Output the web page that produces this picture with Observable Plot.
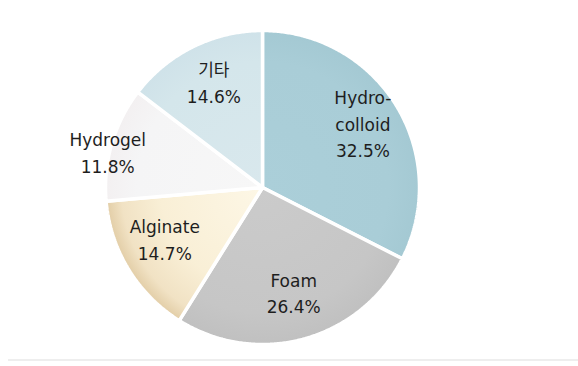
<!DOCTYPE html>
<html>
<head>
<meta charset="utf-8">
<script src="https://cdn.jsdelivr.net/npm/d3@7"></script>
<script src="https://cdn.jsdelivr.net/npm/@observablehq/plot@0.6"></script>
<style>
  body { margin: 0; background: #fff; }
  #chart svg { display: block; }
  #base { height: 2px; margin-left: 8px; background: #eeeeee; }
</style>
</head>
<body>
<div id="chart"></div>
<div id="base"></div>
<script>
// Market share by wound dressing type (%)
const names = ["Hydrocolloid", "Foam", "Alginate", "Hydrogel", "기타"];
const labels = ["Hydro-\ncolloid", "Foam", "Alginate", "Hydrogel", "기타"];
const shares = [32.5, 26.4, 14.7, 11.8, 14.6];

// slice fills (gradients defined below)
const fills = {
  "Hydrocolloid": "url(#g-hydrocolloid)",
  "Foam": "url(#g-foam)",
  "Alginate": "url(#g-alginate)",
  "Hydrogel": "url(#g-hydrogel)",
  "기타": "url(#g-etc)"
};
// label placement: distance from the centre (fraction of radius) and a small pixel nudge
const labelPlace = {
  "Hydrocolloid": {r: 0.75, dx: 0, dy: 1},
  "Foam": {r: 0.72, dx: 1, dy: 0},
  "Alginate": {r: 0.7, dx: -4, dy: -2},
  "Hydrogel": {r: 1.0, dx: -4, dy: 12},
  "기타": {r: 0.7, dx: 0, dy: -3}
};

const rows = names.map((n, i) => ({name: n, label: labels[i], share: shares[i]}));
const arcs = d3.pie().sort(null).value(d => d.share)(rows);

// polygon outline for each slice, in unit-circle coordinates (y up)
const pts = [];
for (const a of arcs) {
  const n = a.data.name;
  pts.push({name: n, x: 0, y: 0});
  const steps = Math.max(2, Math.ceil((a.endAngle - a.startAngle) / (Math.PI / 360)));
  for (let k = 0; k <= steps; k++) {
    const t = a.startAngle + (a.endAngle - a.startAngle) * k / steps;
    pts.push({name: n, x: Math.sin(t), y: Math.cos(t)});
  }
  pts.push({name: n, x: 0, y: 0});
}

const W = 578, H = 359;
const mL = 105, mR = 159, mT = 30, mB = 15;
const pxPerUnit = (W - mL - mR) / 2;

const textRows = arcs.map(a => {
  const m = (a.startAngle + a.endAngle) / 2;
  const p = labelPlace[a.data.name];
  return {
    x: p.r * Math.sin(m) + p.dx / pxPerUnit,
    y: p.r * Math.cos(m) - p.dy / pxPerUnit,
    text: `${a.data.label}\n${a.data.share.toFixed(1)}%`
  };
});

const plot = Plot.plot({
  width: W,
  height: H,
  marginLeft: mL,
  marginRight: mR,
  marginTop: mT,
  marginBottom: mB,
  x: {domain: [-1, 1], axis: null},
  y: {domain: [-1, 1], axis: null},
  color: {type: "identity"},
  style: {background: "#fff"},
  marks: [
    Plot.line(pts, {
      x: "x", y: "y", z: "name",
      fill: d => fills[d.name],
      stroke: "#fff", strokeWidth: 3.5, strokeLinejoin: "miter", curve: "linear"
    }),
    Plot.text(textRows, {
      x: "x", y: "y", text: "text", dy: -5,
      fontSize: 17, lineHeight: 1.58, fill: "#1e1e1e",
      fontFamily: "'DejaVu Sans', 'Noto Sans CJK KR', sans-serif"
    })
  ]
});

// radial gradients centred on the pie
const cx = plot.scale("x").apply(0), cy = plot.scale("y").apply(0);
const R = plot.scale("x").apply(1) - cx;
const grads = {
  "g-hydrocolloid": [[0, "#abcfd9"], [0.8, "#a9cdd7"], [1, "#a4c9d3"]],
  "g-foam": [[0, "#cbcbcb"], [0.8, "#c6c6c6"], [1, "#c0c0c0"]],
  "g-alginate": [[0, "#fdf7e6"], [0.65, "#f9efd6"], [0.9, "#f1e2c4"], [1, "#e2cda6"]],
  "g-hydrogel": [[0, "#f7f7f7"], [0.8, "#f5f5f6"], [1, "#f3f0f1"]],
  "g-etc": [[0, "#d9e8ed"], [0.8, "#d4e6eb"], [1, "#cfe2e9"]]
};
const ns = "http://www.w3.org/2000/svg";
const defs = document.createElementNS(ns, "defs");
for (const [id, stops] of Object.entries(grads)) {
  const g = document.createElementNS(ns, "radialGradient");
  g.setAttribute("id", id);
  g.setAttribute("gradientUnits", "userSpaceOnUse");
  g.setAttribute("cx", cx); g.setAttribute("cy", cy); g.setAttribute("r", R);
  for (const [o, c] of stops) {
    const s = document.createElementNS(ns, "stop");
    s.setAttribute("offset", o);
    s.setAttribute("stop-color", c);
    g.appendChild(s);
  }
  defs.appendChild(g);
}
plot.insertBefore(defs, plot.firstChild);
document.getElementById("chart").appendChild(plot);
</script>
</body>
</html>
